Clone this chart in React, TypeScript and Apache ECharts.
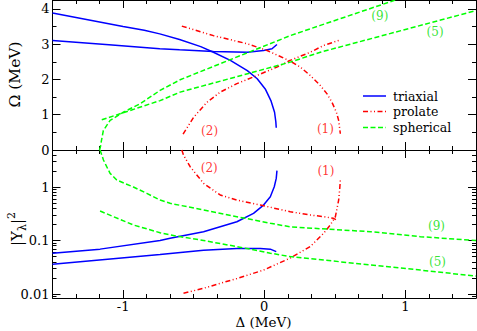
import React, { useEffect, useRef } from 'react';
import * as echarts from 'echarts';

// ---------- axis ranges & ticks ----------
const X_MIN = -1.5;
const X_MAX = 1.5;
const OMEGA_MIN = 0;
const OMEGA_MAX = 4.25;
const Y2_MIN = 0.00842;
const Y2_MAX = 4.92;

const xMajorTicks = [-1, 0, 1];
const omegaMajorTicks = [0, 1, 2, 3, 4];
const omegaMinorTicks = [0.5, 1.5, 2.5, 3.5];
const y2MajorTicks = [0.01, 0.1, 1];

// ---------- top panel: Omega (MeV) vs Delta (MeV) ----------
const triaxTopA: number[][] = [
  [-1.5, 3.88], [-1.25, 3.69], [-1.0, 3.5], [-0.85, 3.39], [-0.74, 3.29], [-0.6, 3.13], [-0.45, 2.93],
  [-0.36, 2.77], [-0.24, 2.54], [-0.12, 2.25], [-0.05, 2.02], [0.007, 1.73], [0.047, 1.4],
  [0.073, 1.07], [0.082, 0.8], [0.085, 0.63],
];
const triaxTopB: number[][] = [
  [-1.5, 3.1], [-1.1, 2.98], [-0.74, 2.87], [-0.6, 2.84], [-0.36, 2.79], [-0.12, 2.77],
  [-0.005, 2.82], [0.055, 2.87], [0.09, 2.99],
];
const prolateTop1: number[][] = [
  [-0.584, 3.51], [-0.36, 3.24], [-0.12, 3.01], [0.02, 2.82], [0.184, 2.52], [0.255, 2.35],
  [0.326, 2.11], [0.397, 1.83], [0.445, 1.59], [0.48, 1.35], [0.511, 1.07], [0.527, 0.84],
  [0.539, 0.46],
];
const prolateTop2: number[][] = [
  [-0.575, 0.45], [-0.5, 0.93], [-0.406, 1.35], [-0.312, 1.64], [-0.194, 1.88], [-0.052, 2.11],
  [0.09, 2.35], [0.184, 2.54], [0.326, 2.77], [0.42, 2.96], [0.539, 3.12],
];
const spherTop9: number[][] = [
  [-1.167, 0.0], [-1.16, 0.1], [-1.153, 0.27], [-1.14, 0.55], [-1.092, 0.84], [-0.998, 1.07],
  [-0.879, 1.31], [-0.738, 1.69], [-0.596, 1.99], [0.184, 3.24], [0.397, 3.53], [0.93, 4.25],
];
const spherTop5: number[][] = [
  [-1.151, 0.855], [-0.738, 1.4], [-0.596, 1.64], [0.184, 2.49], [0.397, 2.77], [1.5, 3.95],
];

// ---------- bottom panel: |Y_lambda|^2 vs Delta (MeV) ----------
const triaxBotA: number[][] = [
  [-1.5, 0.058], [-1.163, 0.069], [-0.738, 0.1], [-0.667, 0.11], [-0.43, 0.146], [-0.194, 0.224],
  [-0.076, 0.322], [-0.005, 0.46], [0.043, 0.66], [0.071, 1.01], [0.085, 1.45], [0.09, 2.02],
];
const triaxBotB: number[][] = [
  [-1.5, 0.036], [-0.738, 0.055], [-0.43, 0.066], [-0.194, 0.071], [-0.028, 0.071],
  [0.043, 0.069], [0.085, 0.062],
];
const prolateBot2: number[][] = [
  [-0.584, 4.92], [-0.572, 3.96], [-0.525, 2.4], [-0.43, 1.17], [-0.312, 0.71], [-0.194, 0.57],
  [-0.028, 0.46], [0.184, 0.345], [0.326, 0.3], [0.42, 0.279], [0.49, 0.26], [0.516, 0.24],
];
const prolateBot1: number[][] = [
  [-0.572, 0.0103], [-0.43, 0.0128], [-0.194, 0.0195], [-0.005, 0.028], [0.184, 0.047],
  [0.326, 0.077], [0.42, 0.136], [0.468, 0.195], [0.504, 0.279], [0.527, 0.57], [0.534, 0.88],
  [0.539, 1.35],
];
const spherBot9: number[][] = [
  [-1.163, 4.92], [-1.139, 3.2], [-1.116, 2.4], [-1.092, 1.8], [-1.045, 1.35], [-0.927, 1.0],
  [-0.832, 0.76], [-0.738, 0.57], [-0.667, 0.496], [-0.43, 0.372], [-0.194, 0.279],
  [0.043, 0.21], [0.184, 0.18], [0.752, 0.146], [1.106, 0.118], [1.5, 0.1],
];
const spherBot5: number[][] = [
  [-1.163, 0.356], [-1.068, 0.279], [-0.927, 0.195], [-0.738, 0.14], [-0.667, 0.127],
  [-0.43, 0.1], [-0.194, 0.077], [0.043, 0.058], [0.184, 0.05], [0.752, 0.035],
  [1.106, 0.028], [1.5, 0.0216],
];

// ---------- annotations (state numbers) ----------
const topGreenNotes = [
  { name: '(9)', value: [0.819, 3.79] },
  { name: '(5)', value: [1.21, 3.34] },
];
const topRedNotes = [
  { name: '(2)', value: [-0.387, 0.55] },
  { name: '(1)', value: [0.433, 0.6] },
];
const botGreenNotes = [
  { name: '(9)', value: [1.22, 0.187] },
  { name: '(5)', value: [1.227, 0.0405] },
];
const botRedNotes = [
  { name: '(2)', value: [-0.39, 2.24] },
  { name: '(1)', value: [0.437, 2.0] },
];

const legendNames = ['triaxial', 'prolate', 'spherical'];

const FONT = 'DejaVu Serif';
const BLUE = '#0000ff';
const RED = '#ff0000';
const GREEN = '#00ff00';
const GREEN_TEXT = '#00dd00';
const PROLATE_DASH = [5, 2.5, 1, 2.5, 1, 2.5];
const SPHER_DASH = [5, 2.5];
const legendColors = [BLUE, RED, GREEN];
const legendDashes: any[] = [null, PROLATE_DASH, SPHER_DASH];

function xMinorTicks(): number[] {
  const out: number[] = [];
  for (let k = 1; k < 18; k++) {
    const v = X_MIN + k / 6;
    if (Math.abs(v - Math.round(v)) > 1e-6) out.push(v);
  }
  return out;
}
function y2MinorTicks(): number[] {
  const out: number[] = [];
  for (const d of [0.001, 0.01, 0.1, 1]) {
    for (let m = 2; m <= 9; m++) {
      const v = m * d;
      if (v >= Y2_MIN && v <= Y2_MAX) out.push(v);
    }
  }
  return out;
}

const MAJOR_LEN = 8;
const MINOR_LEN = 4;
const TICK_FONT = 13;

function xAxisDef(grid: number, pos: string, ticks: number[], len: number, showLine: boolean, labels: boolean) {
  return {
    type: 'value',
    gridIndex: grid,
    position: pos,
    min: X_MIN,
    max: X_MAX,
    axisLine: { show: showLine, onZero: false, lineStyle: { color: '#000', width: 1 } },
    axisTick: { show: true, inside: true, length: len, customValues: ticks, lineStyle: { color: '#000', width: 1 } },
    axisLabel: labels
      ? {
          show: true,
          customValues: ticks,
          margin: 2,
          lineHeight: 13,
          color: '#000',
          fontFamily: FONT,
          fontSize: TICK_FONT,
          formatter: (v: number) => String(Math.round(v)),
        }
      : { show: false },
    splitLine: { show: false },
  };
}

function yAxisDef(grid: number, pos: string, log: boolean, ticks: number[], len: number, showLine: boolean, labels: boolean) {
  const base: any = {
    type: log ? 'log' : 'value',
    gridIndex: grid,
    position: pos,
    min: log ? Y2_MIN : OMEGA_MIN,
    max: log ? Y2_MAX : OMEGA_MAX,
    axisLine: { show: showLine, onZero: false, lineStyle: { color: '#000', width: 1 } },
    axisTick: { show: true, inside: true, length: len, customValues: ticks, lineStyle: { color: '#000', width: 1 } },
    axisLabel: labels
      ? {
          show: true,
          customValues: ticks,
          margin: 3,
          color: '#000',
          fontFamily: FONT,
          fontSize: TICK_FONT,
          formatter: (v: number) => String(Number(Number(v).toPrecision(6))),
        }
      : { show: false },
    splitLine: { show: false },
  };
  if (log) base.logBase = 10;
  return base;
}

function lineSeries(name: string, data: number[][], axisIdx: number, color: string, type: any) {
  return {
    type: 'line',
    name,
    data,
    xAxisIndex: axisIdx,
    yAxisIndex: axisIdx,
    symbol: 'none',
    showSymbol: false,
    smooth: false,
    clip: true,
    silent: true,
    lineStyle: { color, width: 1.5, type },
    itemStyle: { color },
  };
}

function noteSeries(id: string, data: any[], axisIdx: number, color: string) {
  return {
    type: 'scatter',
    name: id,
    data,
    xAxisIndex: axisIdx,
    yAxisIndex: axisIdx,
    symbolSize: 0,
    silent: true,
    label: {
      show: true,
      position: 'inside',
      formatter: '{b}',
      color,
      fontFamily: FONT,
      fontSize: 12,
    },
  };
}

function legendGraphic(): any[] {
  const rowY = [96, 111.5, 127.5];
  const out: any[] = [];
  legendNames.forEach((name, i) => {
    out.push({
      type: 'line',
      shape: { x1: 363, y1: rowY[i], x2: 386, y2: rowY[i] },
      style: { stroke: legendColors[i], lineWidth: 1.5, lineDash: legendDashes[i] },
      silent: true,
    });
    out.push({
      type: 'text',
      x: 393,
      y: rowY[i],
      style: {
        text: name,
        fontFamily: FONT,
        fontSize: 12.5,
        fill: '#000',
        align: 'left',
        verticalAlign: 'middle',
      },
      silent: true,
    });
  });
  return out;
}

function buildOption(): any {
  const xMinor = xMinorTicks();
  const y2Minor = y2MinorTicks();
  return {
    animation: false,
    backgroundColor: '#fff',
    grid: [
      { left: 52.5, top: 0, width: 423.5, height: 150, outerBoundsMode: 'none', containLabel: false },
      { left: 52.5, top: 150, width: 423.5, height: 148, outerBoundsMode: 'none', containLabel: false },
    ],
    xAxis: [
      xAxisDef(0, 'bottom', xMajorTicks, MAJOR_LEN, true, false),
      xAxisDef(0, 'bottom', xMinor, MINOR_LEN, false, false),
      xAxisDef(0, 'top', xMajorTicks, MAJOR_LEN, true, false),
      xAxisDef(0, 'top', xMinor, MINOR_LEN, false, false),
      xAxisDef(1, 'bottom', xMajorTicks, MAJOR_LEN, true, true),
      xAxisDef(1, 'bottom', xMinor, MINOR_LEN, false, false),
      xAxisDef(1, 'top', xMajorTicks, MAJOR_LEN, true, false),
      xAxisDef(1, 'top', xMinor, MINOR_LEN, false, false),
    ],
    yAxis: [
      yAxisDef(0, 'left', false, omegaMajorTicks, MAJOR_LEN, true, true),
      yAxisDef(0, 'left', false, omegaMinorTicks, MINOR_LEN, false, false),
      yAxisDef(0, 'right', false, omegaMajorTicks, MAJOR_LEN, true, false),
      yAxisDef(0, 'right', false, omegaMinorTicks, MINOR_LEN, false, false),
      yAxisDef(1, 'left', true, y2MajorTicks, MAJOR_LEN, true, true),
      yAxisDef(1, 'left', true, y2Minor, MINOR_LEN, false, false),
      yAxisDef(1, 'right', true, y2MajorTicks, MAJOR_LEN, true, false),
      yAxisDef(1, 'right', true, y2Minor, MINOR_LEN, false, false),
    ],
    series: [
      lineSeries('triaxial', triaxTopA, 0, BLUE, 'solid'),
      lineSeries('triaxial', triaxTopB, 0, BLUE, 'solid'),
      lineSeries('prolate', prolateTop1, 0, RED, PROLATE_DASH),
      lineSeries('prolate', prolateTop2, 0, RED, PROLATE_DASH),
      lineSeries('spherical', spherTop9, 0, GREEN, SPHER_DASH),
      lineSeries('spherical', spherTop5, 0, GREEN, SPHER_DASH),
      lineSeries('triaxial', triaxBotA, 4, BLUE, 'solid'),
      lineSeries('triaxial', triaxBotB, 4, BLUE, 'solid'),
      lineSeries('prolate', prolateBot2, 4, RED, PROLATE_DASH),
      lineSeries('prolate', prolateBot1, 4, RED, PROLATE_DASH),
      lineSeries('spherical', spherBot9, 4, GREEN, SPHER_DASH),
      lineSeries('spherical', spherBot5, 4, GREEN, SPHER_DASH),
      noteSeries('noteTopG', topGreenNotes, 0, GREEN_TEXT),
      noteSeries('noteTopR', topRedNotes, 0, RED),
      noteSeries('noteBotG', botGreenNotes, 4, GREEN_TEXT),
      noteSeries('noteBotR', botRedNotes, 4, RED),
    ],
    graphic: [
      ...legendGraphic(),
      {
        type: 'text',
        x: 15,
        y: 74.5,
        rotation: Math.PI / 2,
        style: {
          text: 'Ω (MeV)',
          fontFamily: FONT,
          fontSize: 15.5,
          fill: '#000',
          align: 'center',
          verticalAlign: 'middle',
        },
      },
      {
        type: 'text',
        x: 17,
        y: 229,
        rotation: Math.PI / 2,
        style: {
          text: '{a||Y}{b|λ}{a||}{c|2}',
          align: 'center',
          verticalAlign: 'middle',
          fill: '#000',
          rich: {
            a: { fontFamily: FONT, fontSize: 15, fill: '#000', lineHeight: 22 },
            b: { fontFamily: FONT, fontSize: 11, fill: '#000', verticalAlign: 'bottom' },
            c: { fontFamily: FONT, fontSize: 11, fill: '#000', verticalAlign: 'top' },
          },
        },
      },
      {
        type: 'text',
        x: 263.5,
        y: 321.5,
        style: {
          text: 'Δ (MeV)',
          fontFamily: FONT,
          fontSize: 13.5,
          lineHeight: 14,
          fill: '#000',
          align: 'center',
          verticalAlign: 'middle',
        },
      },
    ],
  };
}

export default function App() {
  const ref = useRef<HTMLDivElement>(null);
  useEffect(() => {
    if (!ref.current) return;
    const chart = echarts.init(ref.current, null, { renderer: 'svg' });
    chart.setOption(buildOption());
    return () => chart.dispose();
  }, []);
  return (
    <div
      ref={ref}
      style={{ position: 'absolute', left: 0, top: 0, width: 477, height: 331, background: '#fff' }}
    />
  );
}
